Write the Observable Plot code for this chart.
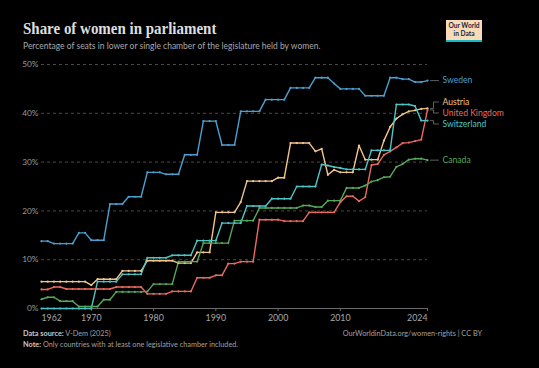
<!DOCTYPE html>
<html>
<head>
<meta charset="utf-8">
<script src="https://cdn.jsdelivr.net/npm/d3@7"></script>
<script src="https://cdn.jsdelivr.net/npm/@observablehq/plot@0.6"></script>
<style>
  html, body { margin: 0; padding: 0; background: #000; }
  body { width: 539px; height: 368px; position: relative; overflow: hidden; font-family: Lato, "Noto Sans", sans-serif; }
  #title { position: absolute; left: 23px; top: 20px; font-family: "Liberation Serif", serif; font-weight: bold; font-size: 17.5px; color: #dedede; line-height: 1; white-space: nowrap; transform: scaleX(0.855); transform-origin: 0 0; }
  #subtitle { position: absolute; left: 23px; top: 42px; font-size: 8.5px; color: #a8a8a8; line-height: 1; white-space: nowrap; }
  #logo { position: absolute; left: 446px; top: 20px; width: 36px; height: 18px; background: #f7dcb7; border-bottom: 2px solid #19b8c4; color: #1a2740; font-size: 6.6px; font-weight: bold; line-height: 7.6px; text-align: center; padding-top: 2px; box-sizing: content-box; }
  #chart { position: absolute; left: 0; top: 50px; }
  .foot { position: absolute; font-size: 7.3px; color: #a0a0a0; line-height: 1; white-space: nowrap; }
  .foot b { color: #c8c8c8; font-weight: bold; }
</style>
</head>
<body>
<div id="title">Share of women in parliament</div>
<div id="subtitle">Percentage of seats in lower or single chamber of the legislature held by women.</div>
<div id="logo">Our World<br>in Data</div>
<div id="chart"></div>
<div class="foot" style="left:23px; top:330px;"><b>Data source:</b> V-Dem (2025)</div>
<div class="foot" style="right:57px; top:330px;">OurWorldinData.org/women-rights | CC BY</div>
<div class="foot" style="left:23px; top:341px;"><b>Note:</b> Only countries with at least one legislative chamber included.</div>
<script>
const years = d3.range(1962, 2025);

const sweden = [
  13.8,13.8,13.3,13.3,13.3,13.3,15.5,15.5,
  14.0,14.0,14.0,21.4,21.4,21.4,22.9,22.9,22.9,27.9,
  27.9,27.9,27.5,27.5,27.5,31.5,31.5,31.5,38.4,38.4,
  38.4,33.5,33.5,33.5,40.4,40.4,40.4,40.4,42.8,42.8,
  42.8,42.8,45.2,45.2,45.2,45.2,47.3,47.3,47.3,46.1,
  45.0,45.0,45.0,45.0,43.6,43.6,43.6,43.6,47.3,47.3,
  47.0,47.0,46.4,46.4,46.7
];
const austria = [
  5.5,5.5,5.5,5.5,5.5,5.5,5.5,5.5,
  4.8,6.0,6.0,6.0,6.0,7.7,7.7,7.7,7.7,9.8,
  9.8,9.8,9.8,9.8,9.3,9.3,9.3,11.5,11.5,11.5,
  19.7,19.7,19.7,19.7,21.8,26.1,26.1,26.1,26.1,26.1,
  26.8,26.8,33.9,33.9,33.9,33.9,32.2,32.7,27.4,28.4,
  27.9,27.9,27.9,33.4,30.5,30.5,30.5,34.4,37.2,38.9,
  39.8,40.4,40.6,40.9,41.0
];
const unitedKingdom = [
  3.9,3.9,4.4,4.4,4.0,4.0,4.0,4.0,
  4.0,4.0,4.0,4.0,4.4,4.4,4.4,4.4,4.4,3.0,
  3.0,3.0,3.0,3.5,3.5,3.5,3.5,6.3,6.3,6.3,
  6.8,6.8,9.2,9.2,9.6,9.6,9.6,18.2,18.2,18.2,
  18.2,17.9,17.9,17.9,17.9,19.7,19.7,19.7,19.7,19.7,
  21.8,23.0,23.0,22.0,22.8,29.4,29.6,31.5,32.2,33.0,
  33.9,34.0,34.3,34.6,40.7
];
const switzerland = [
  0,0,0,0,0,0,0,0,
  0,5.5,5.5,5.5,5.5,7.0,7.0,7.0,7.0,10.4,
  10.4,10.4,10.4,10.9,10.9,10.9,10.9,13.9,13.9,13.9,
  13.9,17.5,17.5,17.5,17.5,21.0,21.0,21.0,21.0,22.5,
  22.5,22.5,22.5,25.0,25.0,25.0,25.0,29.5,29.3,29.0,
  28.8,28.5,28.5,28.5,28.5,32.4,32.4,32.4,32.4,41.8,
  41.8,41.8,41.5,38.5,38.5
];
const canada = [
  1.9,2.3,2.3,1.5,1.5,1.5,0.4,0.4,
  0.4,0.4,1.8,1.8,3.4,3.4,3.4,3.4,3.4,3.5,
  5.0,5.0,5.0,5.0,9.6,9.6,9.6,9.6,13.4,13.4,
  13.4,13.4,13.4,18.0,18.0,18.0,18.0,20.6,20.6,20.6,
  20.6,20.6,20.6,20.6,21.1,21.1,20.8,20.8,22.1,22.1,
  22.1,24.7,24.7,24.7,25.2,26.0,26.3,26.9,27.0,29.0,
  29.6,30.5,30.7,30.7,30.4
];

const countries = ["Sweden", "Austria", "United Kingdom", "Switzerland", "Canada"];
const seriesValues = [sweden, austria, unitedKingdom, switzerland, canada];
const colors = ["#4c9fd0", "#f2c58c", "#ea6a5e", "#4fc4c4", "#55a95a"];
const xTicks = [1962, 1970, 1980, 1990, 2000, 2010, 2024];
const yTicks = [0, 10, 20, 30, 40, 50];

const rows = [];
countries.forEach((c, i) => seriesValues[i].forEach((v, j) => rows.push({country: c, year: years[j], value: v})));

const W = 539, H = 280, mt = 14, mb = 22, ml = 41, mr = 112;
const xs = Plot.scale({x: {domain: [1962, 2024], range: [ml, W - mr]}});
const ys = Plot.scale({y: {domain: [0, 50], range: [H - mb, mt]}});

// label layout (avoid overlaps, min spacing in px)
const gap = 11;
let labels = countries.map((c, i) => {
  const last = seriesValues[i][seriesValues[i].length - 1];
  return {country: c, color: colors[i], last, target: ys.apply(last)};
}).sort((a, b) => a.target - b.target);
let clusters = labels.map(l => ({items: [l], pos: l.target}));
let merged = true;
while (merged) {
  merged = false;
  for (let k = 0; k < clusters.length - 1; k++) {
    const a = clusters[k], b = clusters[k + 1];
    if (a.pos + a.items.length * gap > b.pos) {
      const items = a.items.concat(b.items);
      const pos = d3.mean(items, (it, idx) => it.target - idx * gap);
      clusters.splice(k, 2, {items, pos});
      merged = true;
      break;
    }
  }
}
clusters.forEach(cl => cl.items.forEach((it, idx) => { it.py = cl.pos + idx * gap; }));
labels.forEach(l => { l.ly = ys.invert(l.py); });

const xEnd = xs.apply(2024);
const connectors = [];
labels.forEach(l => {
  const pts = [[xEnd + 3, l.last], [xEnd + 6, l.last], [xEnd + 6, l.ly], [xEnd + 11, l.ly]];
  if (Math.abs(l.py - l.target) < 0.5) pts.splice(1, 2);
  pts.forEach(p => connectors.push({country: l.country, x: xs.invert(p[0]), y: p[1]}));
});

const plot = Plot.plot({
  width: W, height: H,
  marginTop: mt, marginBottom: mb, marginLeft: ml, marginRight: mr,
  style: {background: "transparent", fontFamily: "Lato, sans-serif"},
  x: {domain: [1962, 2024]},
  y: {domain: [0, 50]},
  color: {domain: countries, range: colors},
  marks: [
    Plot.gridY(yTicks.filter(d => d > 0), {stroke: "#5a5a5a", strokeOpacity: 1, strokeDasharray: "3,3", strokeWidth: 0.8}),
    Plot.axisY(yTicks, {tickSize: 0, tickPadding: 3, tickFormat: d => d + "%", fontSize: 8.3, fill: "#9a9a9a", label: null}),
    Plot.ruleY([0], {stroke: "#6a6a6a", strokeWidth: 1}),
    Plot.axisX(xTicks.slice(1, -1), {tickSize: 3, stroke: "#6a6a6a", tickPadding: 3, tickFormat: d => String(d), fontSize: 8.8, fill: "#a8a8a8", label: null}),
    Plot.axisX([1962], {tickSize: 0, tickPadding: 6, textAnchor: "start", tickFormat: d => String(d), fontSize: 8.8, fill: "#a8a8a8", label: null}),
    Plot.axisX([2024], {tickSize: 3, stroke: "#6a6a6a", tickPadding: 3, textAnchor: "end", tickFormat: d => String(d), fontSize: 8.8, fill: "#a8a8a8", label: null}),
    Plot.line(rows, {x: "year", y: "value", z: "country", stroke: "country", strokeWidth: 1.4, curve: "linear"}),
    Plot.dot(rows, {x: "year", y: "value", fill: "country", r: 1.1, stroke: "none"}),
    Plot.line(connectors, {x: "x", y: "y", z: "country", stroke: "#777", strokeWidth: 0.8}),
    Plot.text(labels, {x: 2024, y: "ly", text: "country", fill: d => d.color, dx: 15, textAnchor: "start", fontSize: 8.6})
  ]
});
document.getElementById("chart").appendChild(plot);
</script>
</body>
</html>
